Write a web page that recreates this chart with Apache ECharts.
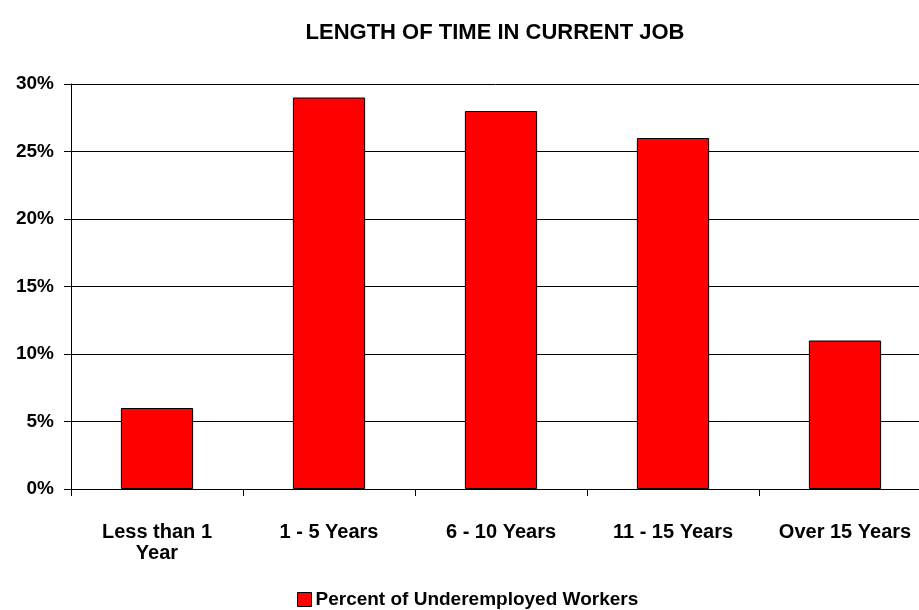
<!DOCTYPE html>
<html>
<head>
<meta charset="utf-8">
<script src="https://cdn.jsdelivr.net/npm/echarts@6/dist/echarts.min.js"></script>
<style>
  html, body { margin: 0; padding: 0; background: #fff; }
  #chart { width: 919px; height: 610px; }
</style>
</head>
<body>
<div id="chart"></div>
<script>
// categories and values
const categories = ['Less than 1\nYear', '1 - 5 Years', '6 - 10 Years', '11 - 15 Years', 'Over 15 Years']
const percentValues = [6, 29, 28, 26, 11]
const seriesName = 'Percent of Underemployed Workers'

const font = 'Arial, "Liberation Sans", sans-serif'

let option = {
  animation: false,
  title: {
    text: 'LENGTH OF TIME IN CURRENT JOB',
    left: 490,
    top: 17,
    textAlign: 'center',
    textStyle: { fontFamily: font, fontSize: 22, fontWeight: 'bold', color: '#000' }
  },
  legend: {
    data: [{ name: seriesName, icon: 'rect' }],
    left: 292,
    top: 590,
    padding: [0, 5],
    itemWidth: 14,
    itemHeight: 14,
    itemGap: 2,
    itemStyle: { borderColor: '#000', borderWidth: 1 },
    textStyle: { fontFamily: font, fontSize: 19, fontWeight: 'bold', color: '#000', padding: [0, 0, 0, -1] }
  },
  // plot runs past the right edge of the picture in the original
  grid: { left: 71, width: 860, top: 84, bottom: 121, containLabel: false, outerBoundsMode: 'none' },
  xAxis: {
    type: 'category',
    data: categories,
    axisLine: { lineStyle: { color: '#000', width: 1 } },
    axisTick: { show: true, length: 7, lineStyle: { color: '#000' } },
    axisLabel: {
      fontFamily: font, fontSize: 20, fontWeight: 'bold', color: '#000',
      margin: 33, lineHeight: 21, interval: 0
    }
  },
  yAxis: {
    type: 'value',
    min: 0,
    max: 30,
    interval: 5,
    axisLine: { show: true, lineStyle: { color: '#000' } },
    axisTick: { show: true, length: 7, lineStyle: { color: '#000' } },
    splitLine: { lineStyle: { color: '#000', width: 1 } },
    axisLabel: {
      formatter: '{value}%',
      fontFamily: font, fontSize: 19, fontWeight: 'bold', color: '#000', margin: 17
    }
  },
  series: [{
    name: seriesName,
    type: 'bar',
    data: percentValues,
    barWidth: '42%',
    itemStyle: { color: '#ff0000', borderColor: '#000', borderWidth: 1 }
  }]
}

let myChart = echarts.init(document.getElementById('chart'))
myChart.setOption(option)
</script>
</body>
</html>
